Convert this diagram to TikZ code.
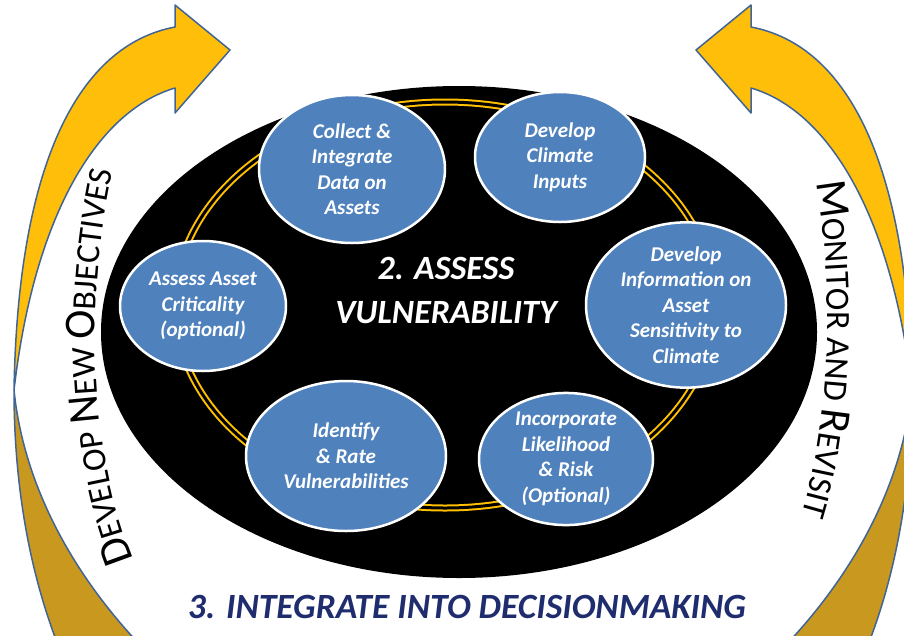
\documentclass[tikz,border=0pt]{standalone}
\usepackage{fontspec}
\setmainfont{Carlito}
\usetikzlibrary{shapes.geometric,decorations.text}
\definecolor{stepblue}{RGB}{79,129,189}
\definecolor{ringgold}{RGB}{255,192,0}
\definecolor{arrowgold}{RGB}{255,190,10}
\definecolor{backgold}{RGB}{200,153,30}
\definecolor{edgeblue}{RGB}{65,100,150}
\definecolor{titlenavy}{RGB}{31,45,110}
\newcommand{\bigsc}{\fontsize{44}{44}\selectfont}
\newcommand{\smallsc}{\fontsize{34}{34}\selectfont}

\begin{document}
\begin{tikzpicture}
[x=1pt,y=-1pt,%
  stepnode/.style={ellipse,draw=white,line width=2.5pt,fill=stepblue,inner sep=0pt,%
    text=white,align=center,font=\fontsize{21}{25.5}\selectfont\bfseries\itshape},%
  band/.style={draw=edgeblue,line width=1.5pt,line join=round}]
\clip (0,0) rectangle (904,635);
\fill[white] (0,0) rectangle (904,635);

% the two curved arrows
\foreach \side/\move in {1/0,-1/926}{
  \begin{scope}[shift={(\move,0)},xscale=\side]
    \filldraw[band,fill=backgold] (14,390) .. controls (14,470) and (25,560) .. (58,645)
      -- (140,645) .. controls (60,560) and (22,470) .. (14,390) -- cycle;
    \filldraw[band,fill=arrowgold] (14,390) .. controls (18,160) and (80,45) .. (175,27)
      -- (175,5) -- (230,50) -- (175,113) -- (175,88)
      .. controls (100,110) and (35,210) .. (14,390) -- cycle;
  \end{scope}
}

% oval and ring
\node (oval) [ellipse,fill=black,minimum width=716pt,minimum height=492pt,inner sep=0pt] at (459,332) {};
\draw[ringgold,line width=2pt,double=black,double distance=3pt] (445,305) ellipse [x radius=270,y radius=203];

\node (collect) [stepnode,minimum width=186pt,minimum height=148pt] at (352,169) {Collect \&\\Integrate\\Data on\\Assets};
\node (climate) [stepnode,minimum width=170pt,minimum height=130pt] at (560,157) {Develop\\Climate\\Inputs};
\node (sensitivity) [stepnode,minimum width=200pt,minimum height=150pt] at (686,305) {Develop\\Information on\\Asset\\Sensitivity to\\Climate};
\node (criticality) [stepnode,minimum width=166pt,minimum height=130pt] at (203,306) {Assess Asset\\Criticality\\(optional)};
\node (identify) [stepnode,minimum width=200pt,minimum height=150pt] at (346,456) {Identify\\\& Rate\\Vulnerabilities};
\node (likelihood) [stepnode,minimum width=174pt,minimum height=130pt] at (566,459) {Incorporate\\Likelihood\\\& Risk\\(Optional)};

\node (assess) [text=white,align=center,font=\fontsize{34}{44}\selectfont\bfseries\itshape] at (446,290) {2. ASSESS\\VULNERABILITY};
\node (integrate) [text=titlenavy,font=\fontsize{35.5}{35.5}\selectfont\bfseries\itshape] at (467,607) {3. INTEGRATE INTO DECISIONMAKING};

% side labels
\path[decorate,decoration={text along path,text align=center,
  text={|\bigsc|D|\smallsc|EVELOP |\bigsc|N|\smallsc|EW |\bigsc|O|\smallsc|BJECTIVES}}]
  (142,580) .. controls (90,470) and (80,300) .. (118,150);
\path[decorate,decoration={text along path,text align=center,
  text={|\bigsc|M|\smallsc|ONITOR AND |\bigsc|R|\smallsc|EVISIT}}]
  (808,140) .. controls (840,280) and (832,450) .. (787,555);
\end{tikzpicture}
\end{document}
